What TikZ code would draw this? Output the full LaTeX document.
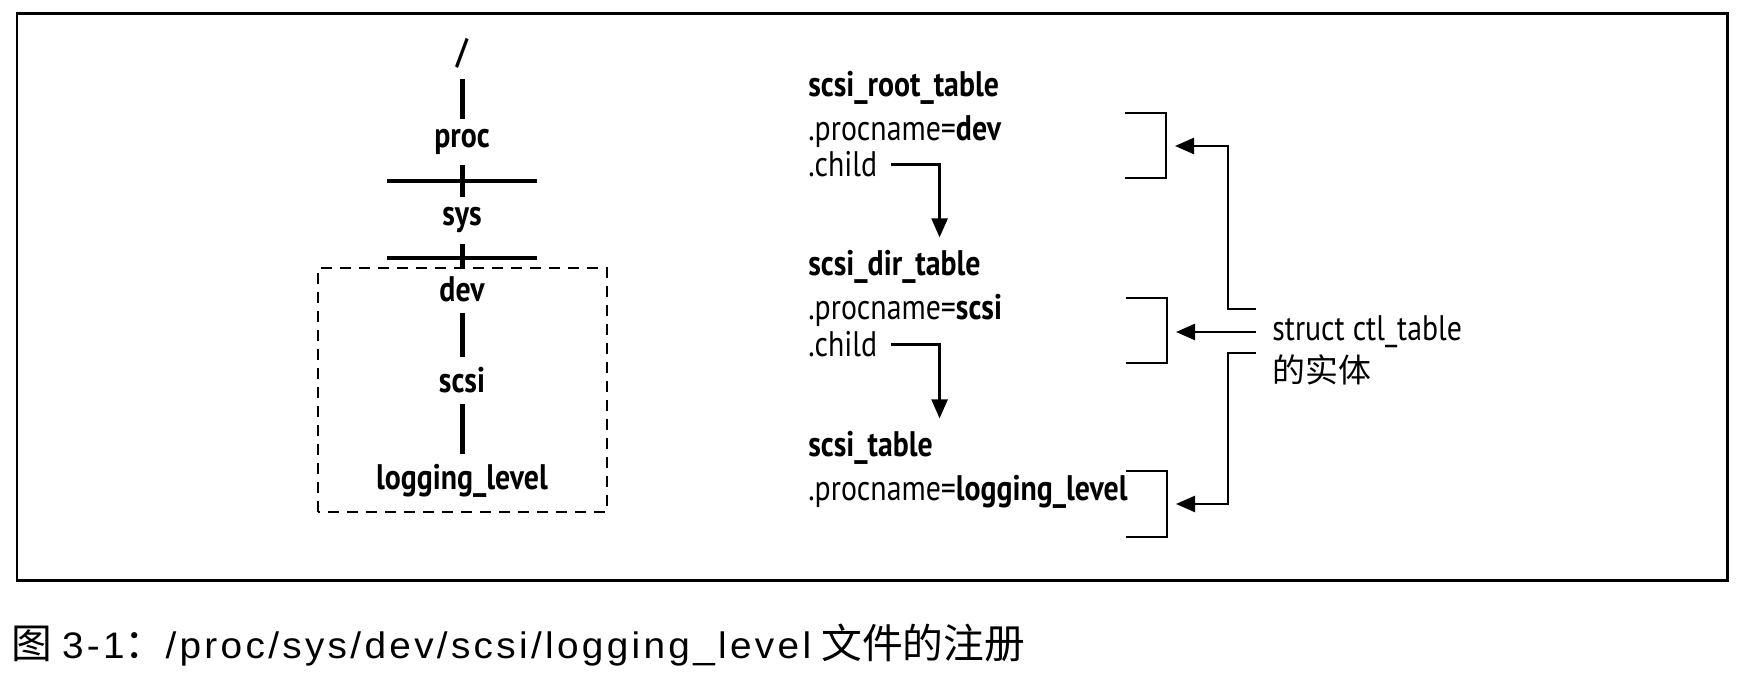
\documentclass[tikz,border=0pt]{standalone}
\usepackage{fontspec}
\setmainfont{PT Sans}[FakeStretch=0.84]
\newfontfamily\capfont{Liberation Sans}[FakeStretch=1.05,LetterSpace=9]
\newfontfamily\cjk{Noto Sans CJK SC}
\usetikzlibrary{arrows.meta}
\tikzset{
	dir/.style={font=\fontsize{20.2}{24}\selectfont\bfseries,
		inner xsep=0pt, inner ysep=0.2cm, anchor=base},
	field/.style={font=\fontsize{20.2}{24}\selectfont, inner sep=0pt,
		anchor=base west},
	bar/.style={line width=0.1cm},
	cross/.style={line width=0.08cm},
	ptr/.style={line width=0.05cm, -{Triangle[length=0.38cm,width=0.32cm]}},
	brk/.style={line width=0.05cm},
}

\begin{document}
\begin{tikzpicture}
		\useasboundingbox (0,0) rectangle (35.06,13.52);
		\draw[line width=0.06cm] (0.34,1.9) rectangle (34.54,13.24);
		% directory tree
		\node[dir] (root) at (9.24,12.24) {/};
		\node[dir] (proc) at (9.24,10.56) {proc};
		\node[dir] (sys) at (9.24,9.0) {sys};
		\node[dir] (dev) at (9.24,7.48) {dev};
		\node[dir] (scsi) at (9.24,5.66) {scsi};
		\node[dir] (lvl) at (9.24,3.72) {logging\_level};
		\draw[bar] (root.south) -- (proc.north);
		\draw[bar] (proc.south) -- (sys.north);
		\draw[bar] (sys.south) -- (dev.north);
		\draw[bar] (dev.south) -- (scsi.north);
		\draw[bar] (scsi.south) -- (lvl.north);
		\draw[cross] (7.74,9.9) -- (10.74,9.9);
		\draw[cross] (7.74,8.36) -- (10.74,8.36);
		\draw[line width=0.04cm, dash pattern=on 0.22cm off 0.16cm]
		(6.36,3.28) rectangle (12.14,8.16);
		% ctl_table entries
		\node[field] (roottab) at (16.16,11.58) {\bfseries scsi\_root\_table};
		\node[field] (pn1) at (16.16,10.7) {.procname=\textbf{dev}};
		\node[field] (child1) at (16.16,9.98) {.child};
		\node[field] (dirtab) at (16.16,8.0) {\bfseries scsi\_dir\_table};
		\node[field] (pn2) at (16.16,7.12) {.procname=\textbf{scsi}};
		\node[field] (child2) at (16.16,6.38) {.child};
		\node[field] (sctab) at (16.16,4.38) {\bfseries scsi\_table};
		\node[field] (pn3) at (16.16,3.5) {.procname=\textbf{logging\_level}};
		\draw[ptr,shorten <=0.26cm,shorten >=0.26cm] (child1.east)
		-| ([xshift=1.24cm]child1.east |- dirtab.north);
		\draw[ptr,shorten <=0.26cm,shorten >=0.26cm] (child2.east)
		-| ([xshift=1.24cm]child2.east |- sctab.north);
		% brackets
		\draw[brk] (22.5,11.26) -| (23.32,9.96) -- (22.5,9.96);
		\draw[brk] (22.52,7.56) -| (23.34,6.26) -- (22.52,6.26);
		\draw[brk] (22.52,4.1) -| (23.34,2.78) -- (22.52,2.78);
		\coordinate (b1) at (23.5,10.6);
		\coordinate (b2) at (23.52,6.88);
		\coordinate (b3) at (23.52,3.44);
		\node[field,anchor=west] (ent) at (25.44,6.88) {struct ctl\_table};
		\node[field,font=\fontsize{18.7}{22}\cjk] (entcn) at (25.44,5.86) {的实体};
		\coordinate (e1) at ([shift={(-0.32,0.46)}]ent.west);
		\coordinate (e2) at ([xshift=-0.32cm]ent.west);
		\coordinate (e3) at ([shift={(-0.32,-0.42)}]ent.west);
		\draw[ptr] (e1) -- ([xshift=-0.56cm]e1) |- (b1);
		\draw[ptr] (e2) -- (b2);
		\draw[ptr] (e3) -- ([xshift=-0.56cm]e3) |- (b3);
		% caption
		\node[inner sep=0pt,anchor=base west] (cap) at (0.22,0.34)
		{{\fontsize{23.2}{26}\cjk 图}\hspace{0.2cm}{\fontsize{21}{24}\capfont
				3-1}{\fontsize{23.2}{26}\cjk ：}{\fontsize{21}{24}\capfont
				/proc/sys/dev/scsi/logging\_level}\hspace{0.2cm}{\fontsize{23.2}{26}\cjk
				文件的注册}};
\end{tikzpicture}
\end{document}
